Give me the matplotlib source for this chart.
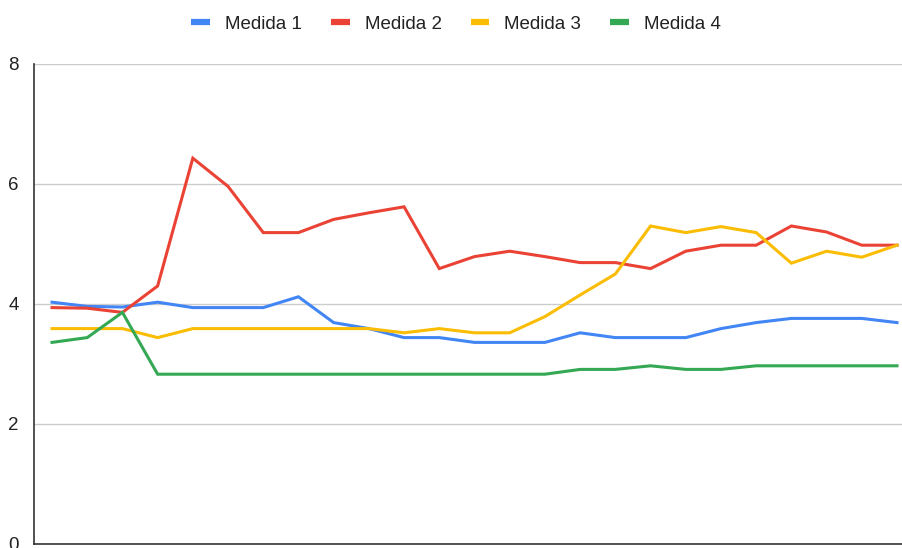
import matplotlib
matplotlib.use("Agg")
import matplotlib.pyplot as plt
from matplotlib.lines import Line2D

plt.rcParams['font.family'] = ['Liberation Sans', 'DejaVu Sans']

# Valores (25 pontos por série)
medida_1 = [4.03, 3.96, 3.95, 4.03, 3.94, 3.94, 3.94, 4.12, 3.69, 3.59, 3.44, 3.44, 3.36,
            3.36, 3.36, 3.52, 3.44, 3.44, 3.44, 3.59, 3.69, 3.76, 3.76, 3.76, 3.69]
medida_2 = [3.94, 3.93, 3.86, 4.30, 6.43, 5.96, 5.19, 5.19, 5.41, 5.52, 5.62, 4.59, 4.79,
            4.88, 4.79, 4.69, 4.69, 4.59, 4.88, 4.98, 4.98, 5.30, 5.20, 4.98, 4.98]
medida_3 = [3.59, 3.59, 3.59, 3.44, 3.59, 3.59, 3.59, 3.59, 3.59, 3.59, 3.52, 3.59, 3.52,
            3.52, 3.79, 4.15, 4.50, 5.30, 5.19, 5.29, 5.19, 4.68, 4.88, 4.78, 4.98]
medida_4 = [3.36, 3.44, 3.86, 2.83, 2.83, 2.83, 2.83, 2.83, 2.83, 2.83, 2.83, 2.83, 2.83,
            2.83, 2.83, 2.91, 2.91, 2.97, 2.91, 2.91, 2.97, 2.97, 2.97, 2.97, 2.97]

series = {"Medida 1": medida_1, "Medida 2": medida_2,
          "Medida 3": medida_3, "Medida 4": medida_4}
cores = ["#4285F4", "#EA4335", "#FBBC04", "#34A853"]

fig = plt.figure(figsize=(9.03, 5.48), dpi=100)
ax = fig.add_axes([34 / 903, 4 / 548, 869 / 903, 480 / 548])

x = list(range(len(medida_1)))
for (nome, valores), cor in zip(series.items(), cores):
    ax.plot(x, valores, color=cor, linewidth=2.2, solid_joinstyle="miter")

ax.set_ylim(0, 8)
ax.set_yticks([0, 2, 4, 6, 8])
ax.set_xlim(-18 * 24 / 845, 24 + 6 * 24 / 845)
ax.set_xticks([])
ax.grid(axis="y", color="#cccccc", linewidth=1)
ax.set_axisbelow(True)
for lado in ["top", "right"]:
    ax.spines[lado].set_visible(False)
ax.spines["left"].set_color("#333333")
ax.spines["bottom"].set_color("#333333")
ax.spines["left"].set_linewidth(1.2)
ax.spines["bottom"].set_linewidth(1.2)
ax.tick_params(axis="y", length=0, pad=11, labelsize=13.5, labelcolor="#222222")

handles = [Line2D([], [], color=c, linewidth=4.5, solid_capstyle="butt") for c in cores]
fig.legend(handles, list(series.keys()), loc="center", bbox_to_anchor=(0.505, 1 - 24 / 548),
           ncol=4, frameon=False, fontsize=13.5, handlelength=1.0, handletextpad=0.8,
           columnspacing=1.55, labelcolor="#222222")

fig.savefig("out.png", dpi=100)
